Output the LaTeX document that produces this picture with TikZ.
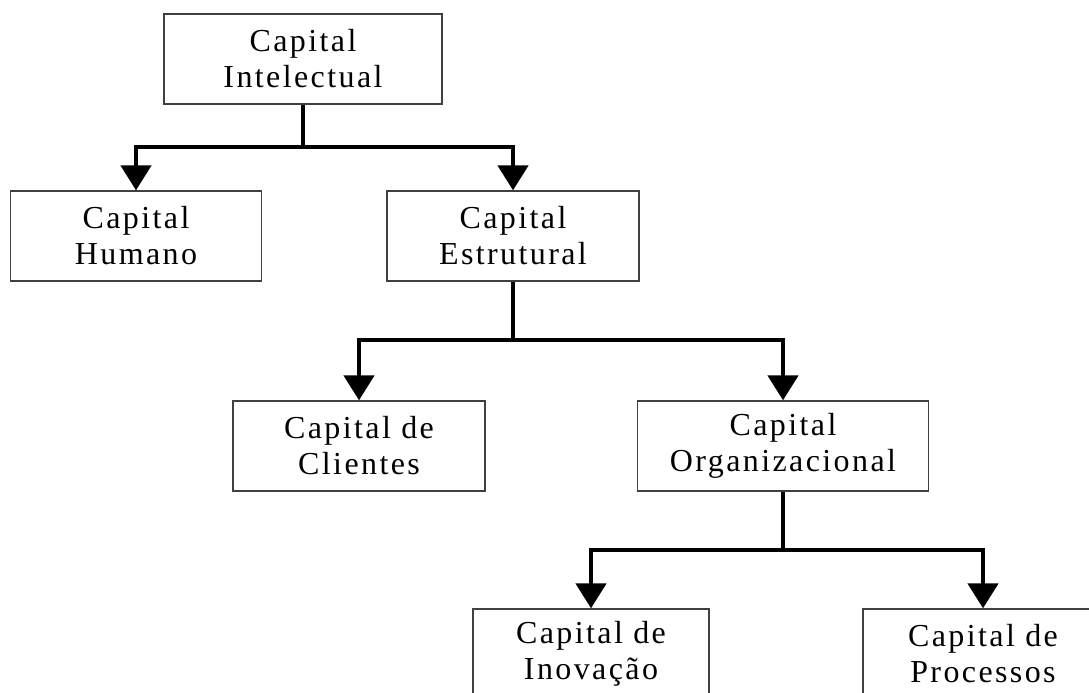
\documentclass[tikz,border=0pt]{standalone}
\usepackage{fontspec}
\setmainfont{Liberation Serif}[LetterSpace=7.5]
\usetikzlibrary{arrows.meta}
\begin{document}
\begin{tikzpicture}[x=1pt,y=-1pt,
  box/.style={draw=black!75, line width=1.3pt, fill=white, inner sep=0pt,
    minimum height=90pt, align=center, text=black,
    font=\fontsize{32}{36}\selectfont},
  conn/.style={line width=4.6pt, line join=miter, draw=black},
  tip/.style={conn, -{Triangle[width=30pt,length=25pt]}}
]
\clip (0,0) rectangle (1089,693);
\fill[white] (0,0) rectangle (1089,693);

\node[box, minimum width=278pt] (I) at (303,59) {Capital\\Intelectual};
\node[box, minimum width=251pt] (H) at (136,236) {Capital\\Humano};
\node[box, minimum width=252pt] (E) at (513,236) {Capital\\Estrutural};
\node[box, minimum width=252pt] (C) at (359,446) {Capital de\\Clientes};
\node[box, minimum width=291pt] (O) at (783,446) {Capital\\Organizacional};
\node[box, minimum width=236pt] (N) at (591,654) {Capital de\\Inovação};
\node[box, minimum width=240pt] (P) at (983,654) {Capital de\\Processos};

\coordinate (j1) at (303,147);
\coordinate (j2) at (513,340);
\coordinate (j3) at (783,550);

\draw[conn] (I.south) -- (j1);
\draw[tip] (j1) -| (H.north);
\draw[tip] (j1) -| (E.north);

\draw[conn] (E.south) -- (j2);
\draw[tip] (j2) -| (C.north);
\draw[tip] (j2) -| (O.north);

\draw[conn] (O.south) -- (j3);
\draw[tip] (j3) -| (N.north);
\draw[tip] (j3) -| (P.north);
\end{tikzpicture}
\end{document}
